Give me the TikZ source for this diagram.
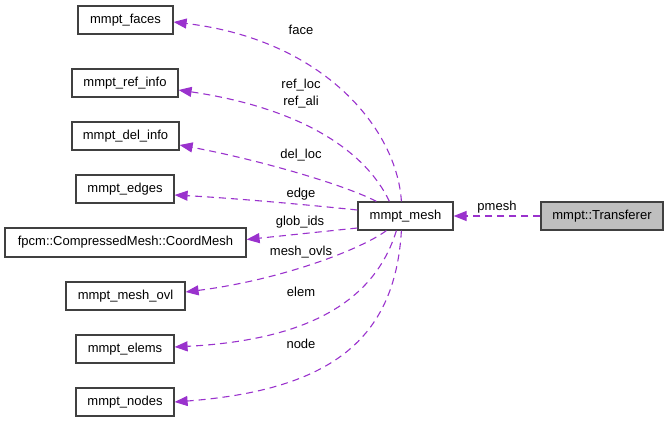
\documentclass[tikz,border=0pt]{standalone}
\usepackage{fontspec}
\setmainfont{Liberation Sans}
\usetikzlibrary{arrows.meta,calc}
\definecolor{edgecol}{HTML}{9A32CD}
\definecolor{boxline}{HTML}{404040}
\definecolor{boxgray}{HTML}{BFBFBF}
\tikzset{
  box/.style={draw=boxline, line width=1.2pt, fill=white, minimum height=28, inner sep=0pt, font=\fontsize{13}{15}\selectfont},
  lbl/.style={inner sep=0pt, font=\fontsize{13}{15}\selectfont},
  rel/.style={draw=edgecol, line width=1.1pt, dash pattern=on 7pt off 5pt, -{Triangle[length=13pt,width=10pt]}, color=edgecol},
}
\begin{document}
\begin{tikzpicture}[x=1pt,y=-1pt]
\useasboundingbox (0,0) rectangle (669,423);
% nodes
\node[box, minimum width=95] (faces) at (125.5,20) {mmpt\_faces};
\node[box, minimum width=106] (ri) at (125,83) {mmpt\_ref\_info};
\node[box, minimum width=107] (di) at (125.5,136) {mmpt\_del\_info};
\node[box, minimum width=98] (edges) at (125,189) {mmpt\_edges};
\node[box, minimum width=241, minimum height=29] (fpcm) at (125.5,242.5) {fpcm::CompressedMesh::CoordMesh};
\node[box, minimum width=119] (ovl) at (125.5,296) {mmpt\_mesh\_ovl};
\node[box, minimum width=98] (elems) at (125,349) {mmpt\_elems};
\node[box, minimum width=98] (nodesbox) at (125,402) {mmpt\_nodes};
\node[box, minimum width=95] (mesh) at (405.5,216) {mmpt\_mesh};
\node[box, minimum width=122, fill=boxgray] (tr) at (602,216) {mmpt::Transferer};
% end points
\coordinate (tFaces) at ($(faces.east)+(0,2)$);
\coordinate (tRi) at ($(ri.east)+(0,7)$);
\coordinate (tDi) at ($(di.east)+(0,9)$);
\coordinate (tEdges) at ($(edges.east)+(0,6)$);
\coordinate (tFpcm) at ($(fpcm.east)+(0,-3)$);
\coordinate (tOvl) at ($(ovl.east)+(0,-4)$);
\coordinate (tElems) at ($(elems.east)+(0,-2)$);
\coordinate (tNodes) at ($(nodesbox.east)+(0,0)$);
\coordinate (sFaces) at ($(mesh.north west)+(44,0)$);
\coordinate (sRi) at ($(mesh.north west)+(32,0)$);
\coordinate (sDi) at ($(mesh.north west)+(19,0)$);
\coordinate (sEdges) at ($(mesh.west)+(0,-6)$);
\coordinate (sFpcm) at ($(mesh.west)+(0,12)$);
\coordinate (sOvl) at ($(mesh.south west)+(29,0)$);
\coordinate (sElems) at ($(mesh.south west)+(39,0)$);
\coordinate (sNodes) at ($(mesh.south west)+(44,0)$);
% connectors
\draw[rel] (tr.west) -- (mesh.east);
\draw[rel] (sFaces) .. controls (397,130) and (325,40) .. (tFaces);
\draw[rel] (sRi) .. controls (365,150) and (300,108) .. (tRi);
\draw[rel] (sDi) .. controls (345,185) and (260,160) .. (tDi);
\draw[rel] (sEdges) .. controls (300,204) and (230,198) .. (tEdges);
\draw[rel] (sFpcm) -- (tFpcm);
\draw[rel] (sOvl) .. controls (360,250) and (280,280) .. (tOvl);
\draw[rel] (sElems) .. controls (375,300) and (310,340) .. (tElems);
\draw[rel] (sNodes) .. controls (395,340) and (330,390) .. (tNodes);
% labels
\node[lbl] (lPmesh) at (497,207) {pmesh};
\node[lbl] (lFace) at (301,30) {face};
\node[lbl] (lRefloc) at (301,85) {ref\_loc};
\node[lbl] (lRefali) at (301,102) {ref\_ali};
\node[lbl] (lDel) at (301,155) {del\_loc};
\node[lbl] (lEdge) at (301,194.5) {edge};
\node[lbl] (lGlob) at (300,222.5) {glob\_ids};
\node[lbl] (lOvls) at (301,252) {mesh\_ovls};
\node[lbl] (lElem) at (301,292) {elem};
\node[lbl] (lNode) at (301,343.5) {node};
\end{tikzpicture}
\end{document}
